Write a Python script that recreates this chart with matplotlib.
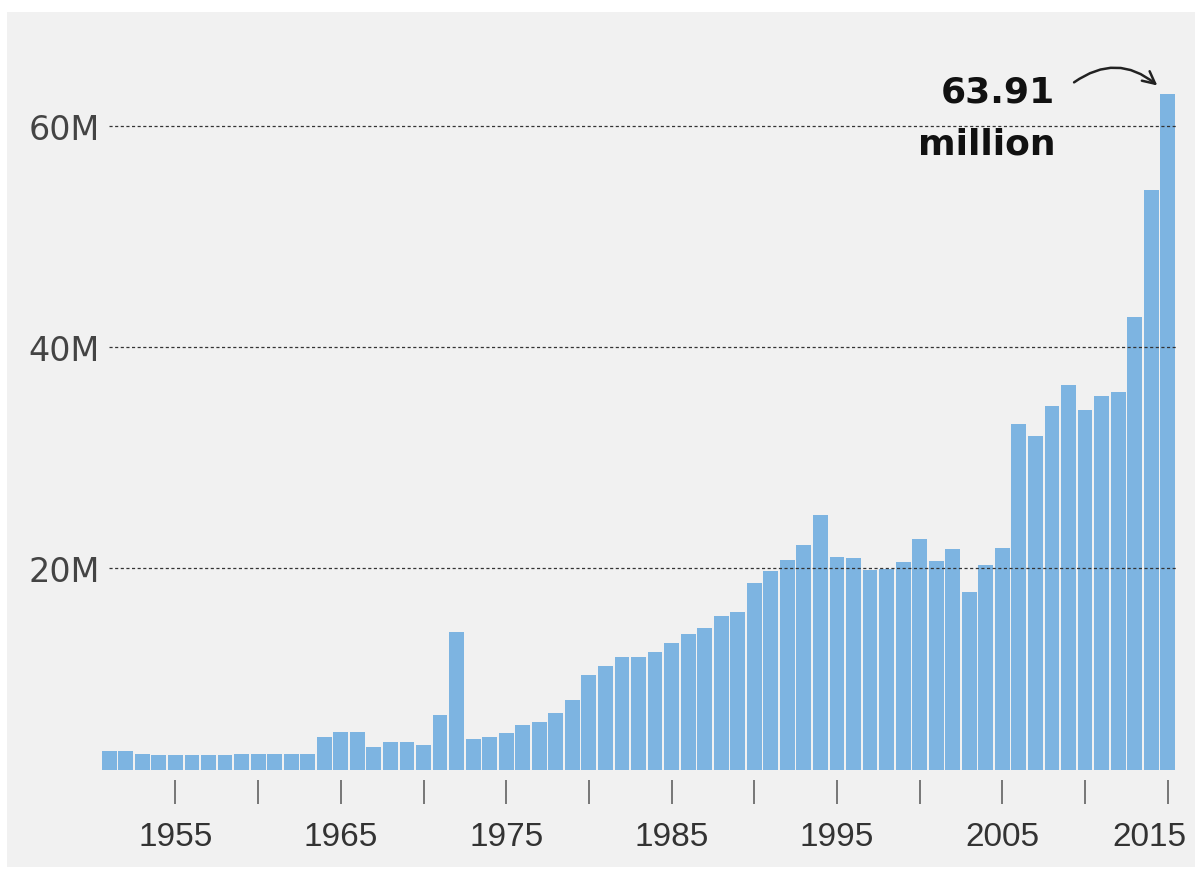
import matplotlib.pyplot as plt
from matplotlib.patches import Rectangle
from matplotlib.transforms import ScaledTranslation

# years shown on the chart and values in millions
years = list(range(1951, 2016))
values = [3.47, 3.47, 3.2, 3.08, 3.08, 3.08, 3.08, 3.08, 3.2, 3.2,
          3.2, 3.2, 3.2, 4.68, 5.19, 5.19, 3.77, 4.22, 4.22, 4.0,
          6.73, 14.18, 4.52, 4.68, 5.04, 5.79, 6.03, 6.85, 8.05, 10.35,
          11.16, 11.97, 11.97, 12.37, 13.19, 14.03, 14.54, 15.63, 15.99, 18.64,
          19.76, 20.75, 22.08, 24.8, 20.97, 20.9, 19.8, 19.9, 20.5, 22.6,
          20.6, 21.7, 17.8, 20.3, 21.8, 33.0, 31.9, 34.7, 36.6, 34.3,
          35.6, 35.9, 42.7, 54.2, 62.9]
grid_values = [20, 40, 60]
grid_labels = ['20M', '40M', '60M']
tick_years = [1955, 1960, 1965, 1970, 1975, 1980, 1985, 1990, 1995, 2000, 2005, 2010, 2015]
label_years = [1955, 1965, 1975, 1985, 1995, 2005, 2015]

W, H = 1195, 878
bg = '#f1f1f1'
bar_color = '#7db4e1'

fig = plt.figure(figsize=(W / 100, H / 100), dpi=100)
fig.patch.set_facecolor('white')
# grey panel behind the chart
fig.patches.append(Rectangle((7 / W, 10 / H), (W - 7) / W, (868 - 13) / H,
                             transform=fig.transFigure, facecolor=bg,
                             edgecolor='none', zorder=-10))

ax = fig.add_axes([101 / W, 107 / H, 1075 / W, 711 / H])
ax.patch.set_alpha(0)
for s in ax.spines.values():
    s.set_visible(False)
ax.spines['bottom'].set_position(('outward', 7))

vals = [v * 1e6 for v in values]
ax.bar(years, vals, width=0.9, color=bar_color, zorder=2)

ax.set_xlim(1950.5, 2015.5)
ax.set_ylim(1.72e6, 66.06e6)

# dashed gridlines on top of the bars
for g in grid_values:
    ax.axhline(g * 1e6, xmin=0.007, xmax=1, color='#333333', lw=0.9,
               dashes=(2.5, 2), zorder=3)

ax.set_yticks([g * 1e6 for g in grid_values])
ax.set_yticklabels(grid_labels)
ax.tick_params(axis='y', length=0, pad=1, labelsize=24, labelcolor='#444444')

ax.set_xticks(tick_years)
ax.set_xticklabels([str(y) if y in label_years else '' for y in tick_years],
                   fontfamily='Liberation Sans')
ax.tick_params(axis='x', length=17, width=1.1, color='#555555', pad=13,
               labelsize=24, labelcolor='#333333')
# last year label is nudged left so it stays inside the panel
last = ax.xaxis.get_majorticklabels()[-1]
last.set_transform(last.get_transform() + ScaledTranslation(-0.18, 0, fig.dpi_scale_trans))

# callout for the last year
ax.text(2008.2, 64.7e6, '63.91\nmillion', ha='right', va='top',
        multialignment='right', fontsize=26, fontweight='bold',
        color='#111111', linespacing=1.7, zorder=5)
ax.annotate('', xy=(2014.5, 63.5e6), xytext=(2009.2, 63.8e6),
            arrowprops=dict(arrowstyle='->', connectionstyle='arc3,rad=-0.4',
                            lw=1.8, color='#222222', mutation_scale=22),
            annotation_clip=False)

fig.savefig('out.png', dpi=100, facecolor='white')
